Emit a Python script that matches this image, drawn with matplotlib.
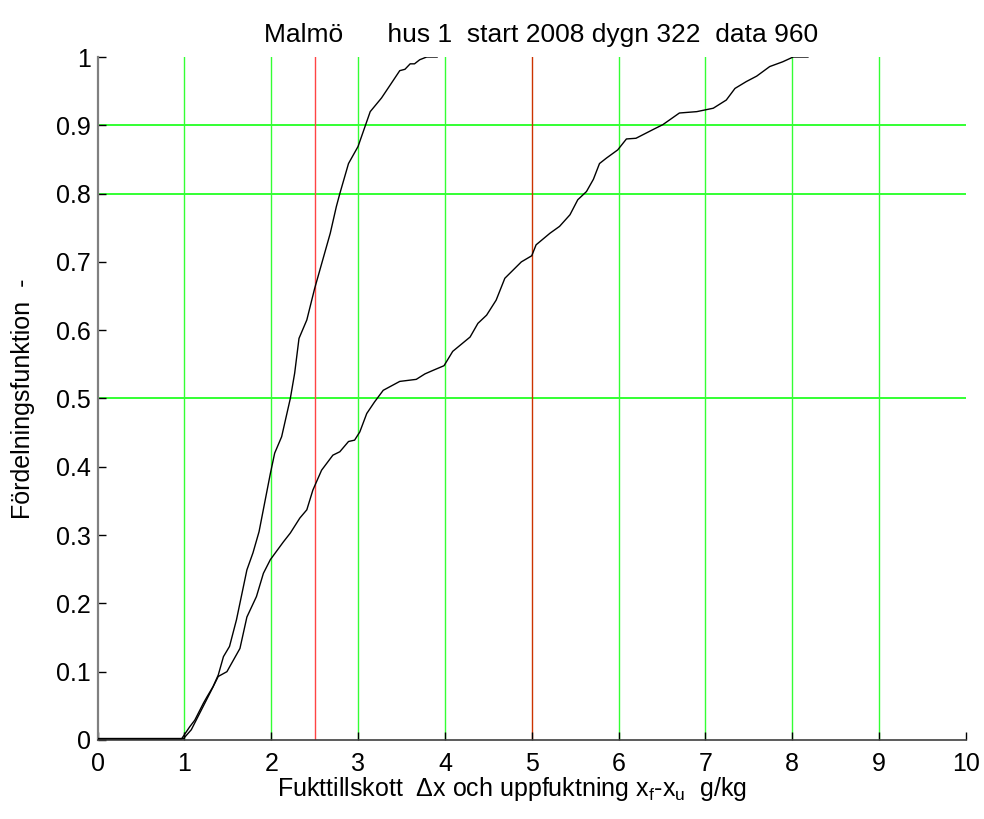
import matplotlib
matplotlib.use('Agg')
import matplotlib.pyplot as plt

plt.rcParams['font.family'] = ['Liberation Sans', 'DejaVu Sans']
plt.rcParams['mathtext.fontset'] = 'custom'
plt.rcParams['mathtext.rm'] = 'Liberation Sans'
plt.rcParams['mathtext.it'] = 'Liberation Sans'

# fördelningsfunktion, fukttillskott (brant kurva)
xa = [0, 0.97, 1.06, 1.12, 1.22, 1.26, 1.33, 1.39, 1.45, 1.52, 1.60, 1.72, 1.79, 1.86, 1.99,
      2.04, 2.12, 2.22, 2.27, 2.32, 2.41, 2.50, 2.68, 2.75, 2.79, 2.89, 3.00, 3.14, 3.27, 3.37,
      3.48, 3.54, 3.60, 3.65, 3.71, 3.79, 3.91]
ya = [0.002, 0.002, 0.019, 0.029, 0.054, 0.063, 0.078, 0.095, 0.122, 0.137, 0.176, 0.249, 0.274, 0.305, 0.39,
      0.42, 0.444, 0.50, 0.537, 0.588, 0.615, 0.661, 0.742, 0.781, 0.80, 0.844, 0.869, 0.92, 0.94, 0.959,
      0.98, 0.982, 0.99, 0.99, 0.996, 1.0, 1.0]

# uppfuktning xf-xu
xb = [0, 0.99, 1.08, 1.18, 1.30, 1.39, 1.49, 1.64, 1.72, 1.83, 1.91, 1.99, 2.14, 2.22, 2.33, 2.41,
      2.48, 2.58, 2.71, 2.79, 2.89, 2.96, 3.02, 3.10, 3.19, 3.29, 3.48, 3.67, 3.77, 3.86, 3.99, 4.09,
      4.29, 4.38, 4.48, 4.59, 4.69, 4.88, 5.0, 5.05, 5.21, 5.32, 5.44, 5.53, 5.63, 5.71, 5.78, 5.86,
      5.99, 6.09, 6.20, 6.40, 6.51, 6.70, 6.90, 7.09, 7.24, 7.34, 7.47, 7.59, 7.74, 7.89, 8.01, 8.18]
yb = [0.002, 0.002, 0.015, 0.04, 0.07, 0.093, 0.10, 0.134, 0.18, 0.21, 0.244, 0.264, 0.29, 0.303, 0.325, 0.337,
      0.366, 0.395, 0.417, 0.422, 0.437, 0.439, 0.451, 0.478, 0.495, 0.512, 0.525, 0.528, 0.536, 0.541, 0.548, 0.569,
      0.590, 0.61, 0.622, 0.644, 0.676, 0.70, 0.709, 0.725, 0.742, 0.752, 0.769, 0.791, 0.803, 0.821, 0.844, 0.852,
      0.864, 0.88, 0.881, 0.894, 0.901, 0.918, 0.92, 0.925, 0.937, 0.954, 0.964, 0.972, 0.986, 0.993, 1.0, 1.0]

green_x = [1, 2, 3, 4, 6, 7, 8, 9]
green_y = [0.5, 0.8, 0.9]
red_x = 2.5
orange_x = 5

xticks = list(range(0, 11))
yticks = [0, 0.1, 0.2, 0.3, 0.4, 0.5, 0.6, 0.7, 0.8, 0.9, 1]
ytick_labels = ['0', '0.1', '0.2', '0.3', '0.4', '0.5', '0.6', '0.7', '0.8', '0.9', '1']

fig = plt.figure(figsize=(9.84, 8.19), dpi=100)
ax = fig.add_axes([0.0991, 0.0965, 0.8826, 0.8339])

for x in green_x:
    ax.axvline(x, color='#33ff33', lw=1.0, zorder=1)
for y in green_y:
    ax.axhline(y, color='#33ff33', lw=1.4, zorder=1)
ax.axvline(red_x, color='#ff4444', lw=1.0, zorder=1)
ax.axvline(orange_x, color='#cc3300', lw=1.0, zorder=1)

ax.plot(xa, ya, color='black', lw=1.0, zorder=3)
ax.plot(xb, yb, color='black', lw=1.0, zorder=3)

ax.set_xlim(0, 10)
ax.set_ylim(0, 1)
ax.set_xticks(xticks)
ax.set_yticks(yticks)
ax.set_yticklabels(ytick_labels)

ax.spines['top'].set_visible(False)
ax.spines['right'].set_visible(False)
ax.spines['left'].set_color('#808080')
ax.spines['bottom'].set_color('#404040')
ax.spines['left'].set_linewidth(1.6)
ax.spines['bottom'].set_linewidth(1.2)
ax.tick_params(direction='in', length=6, width=1, labelsize=18)
ax.tick_params(axis='x', pad=9)
ax.tick_params(axis='y', pad=5)

ax.set_title('Malmö      hus 1  start 2008 dygn 322  data 960', fontsize=19, pad=11, x=0.511)
ax.set_xlabel(r'Fukttillskott  Δx och uppfuktning $\mathregular{x_f}$-$\mathregular{x_u}$  g/kg',
              fontsize=18)
ax.xaxis.set_label_coords(0.477, -0.052)
ax.set_ylabel('Fördelningsfunktion  -', fontsize=18, labelpad=15)

fig.savefig('out.png', dpi=100)
